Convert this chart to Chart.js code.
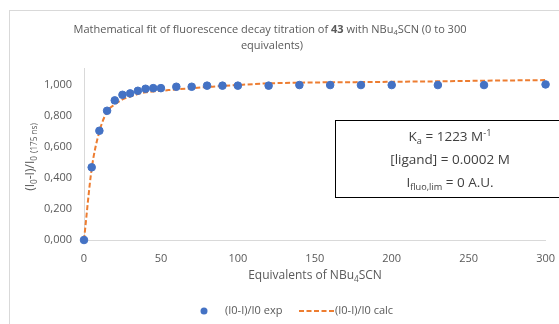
<!DOCTYPE html>
<html>
<head>
<meta charset="utf-8">
<script src="https://cdn.jsdelivr.net/npm/chart.js@4.4.1/dist/chart.umd.min.js"></script>
<style>
  html,body{margin:0;padding:0;background:#fff;}
  #wrap{width:559px;height:324px;position:relative;}
</style>
</head>
<body>
<div id="wrap"><canvas id="graf" width="559" height="324"></canvas></div>
<script>
(function(){

// dados
const eqExp  = [0,5,10,15,20,25,30,35,40,45,50,60,70,80,90,100,120,140,160,180,200,230,260,300];
const valExp = [0,0.469,0.705,0.834,0.901,0.937,0.946,0.963,0.976,0.980,0.980,0.989,0.989,0.996,0.996,0.996,0.996,1.0,1.0,1.0,1.0,1.0,1.0,1.004];
const eqCalc  = [0,5,10,15,20,25,30,35,40,45,50,60,70,80,90,100,120,140,160,180,200,230,260,300];
const valCalc = [0,0.46,0.70,0.828,0.875,0.907,0.925,0.942,0.953,0.959,0.963,0.972,0.980,0.987,0.994,1.0,1.011,1.015,1.018,1.019,1.021,1.024,1.028,1.032];
const xTicks = [0,50,100,150,200,250,300];
const yTicks = [0,0.2,0.4,0.6,0.8,1.0];

const cinza = "#595959";
const azul = "#4472C4";
const laranja = "#ED7D31";
const fonte = "'Open Sans', 'Noto Sans', sans-serif";

// texto com subscrito / negrito / sobrescrito
function runs(ctx, partes, x, y, size, cor, align){
  const fnt = (p)=>{
    const s = (p.s||p.p) ? size*0.68 : size;
    return (p.b?"bold ":"")+s+"px "+fonte;
  };
  let w=0;
  partes.forEach(p=>{ ctx.font=fnt(p); p.w=ctx.measureText(p.t).width; w+=p.w; });
  let cx = align==="left" ? x : x-w/2;
  ctx.fillStyle=cor;
  ctx.textBaseline="middle";
  ctx.textAlign="left";
  partes.forEach(p=>{
    ctx.font=fnt(p);
    let dy = p.s ? size*0.3 : (p.p ? -size*0.3 : 0);
    ctx.fillText(p.t, cx, y+dy);
    cx+=p.w;
  });
}

const textos = {
  id:"textos",
  afterDraw(chart){
    const ctx = chart.ctx;
    ctx.save();

    // borda do gráfico
    ctx.strokeStyle="#d9d9d9";
    ctx.lineWidth=1;
    ctx.strokeRect(9.5,10.5,600,400);

    // título
    runs(ctx,[{t:"Mathematical fit of fluorescence decay titration of "},{t:"43",b:1},{t:" with NBu"},{t:"4",s:1},{t:"SCN (0 to 300"}],270,30,11,cinza);
    runs(ctx,[{t:"equivalents)"}],272,46,11,cinza);

    // eixo x
    runs(ctx,[{t:"Equivalents of NBu"},{t:"4",s:1},{t:"SCN"}],315,276,12,cinza);

    // eixo y
    ctx.save();
    ctx.translate(31,157);
    ctx.rotate(-Math.PI/2);
    runs(ctx,[{t:"(I"},{t:"0",s:1},{t:"-I)/I"},{t:"0",s:1},{t:" "},{t:"(175 ns)",s:1}],0,0,12,cinza);
    ctx.restore();

    // caixa
    ctx.strokeStyle="#000";
    ctx.strokeRect(335.5,120.5,300,77);
    runs(ctx,[{t:"K"},{t:"a",s:1},{t:" = 1223 M"},{t:"-1",p:1}],450,137,13.5,"#404040");
    runs(ctx,[{t:"[ligand] = 0.0002 M"}],450,160,13.5,"#404040");
    runs(ctx,[{t:"I"},{t:"fluo,lim",s:1},{t:" = 0 A.U."}],450,183,13.5,"#404040");

    // legenda
    ctx.fillStyle=azul;
    ctx.beginPath(); ctx.arc(204,311,3.5,0,Math.PI*2); ctx.fill();
    runs(ctx,[{t:"(I0-I)/I0 exp"}],225,311,11,cinza,"left");
    ctx.strokeStyle=laranja; ctx.lineWidth=2; ctx.setLineDash([5,2.5]);
    ctx.beginPath(); ctx.moveTo(299,311); ctx.lineTo(334,311); ctx.stroke();
    ctx.setLineDash([]);
    runs(ctx,[{t:"(I0-I)/I0 calc"}],335,311,11,cinza,"left");

    ctx.restore();
  }
};

new Chart(document.getElementById("graf"),{
  type:"scatter",
  data:{
    datasets:[
      {
        label:"(I0-I)/I0 exp",
        data:eqExp.map((x,i)=>({x:x,y:valExp[i]})),
        backgroundColor:azul,
        borderColor:azul,
        pointRadius:3.8,
        pointHoverRadius:3.8,
        clip:false,
        order:1
      },
      {
        label:"(I0-I)/I0 calc",
        type:"line",
        data:eqCalc.map((x,i)=>({x:x,y:valCalc[i]})),
        borderColor:laranja,
        borderWidth:2,
        borderDash:[5,2.5],
        pointRadius:0,
        fill:false,
        clip:false,
        cubicInterpolationMode:"monotone",
        order:2
      }
    ]
  },
  options:{
    responsive:false,
    animation:false,
    layout:{padding:{top:68,right:8,left:0,bottom:0}},
    plugins:{legend:{display:false},title:{display:false},tooltip:{enabled:false}},
    scales:{
      x:{
        type:"linear",min:0,max:300,
        grid:{display:false},
        border:{display:true,color:"#d9d9d9",width:1},
        afterBuildTicks:(s)=>{ s.ticks=xTicks.map(v=>({value:v})); },
        afterFit:(s)=>{ s.height=84; },
        ticks:{color:cinza,font:{family:fonte,size:11},padding:4,maxRotation:0}
      },
      y:{
        type:"linear",min:0,max:1.11,
        grid:{display:false},
        border:{display:true,color:"#d9d9d9",width:1},
        afterBuildTicks:(s)=>{ s.ticks=yTicks.map(v=>({value:v})); },
        afterFit:(s)=>{ s.width=84; },
        ticks:{color:cinza,font:{family:fonte,size:11},padding:4,
          callback:(v)=>v.toFixed(3).replace(".",",")}
      }
    }
  },
  plugins:[textos]
});

})();
</script>
</body>
</html>
